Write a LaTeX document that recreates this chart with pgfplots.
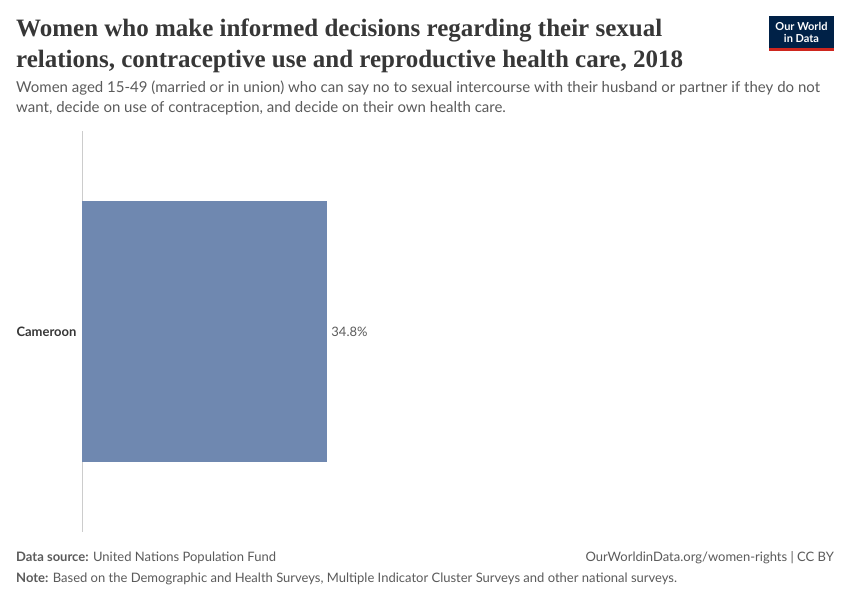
\documentclass[border=0pt]{standalone}
\usepackage{fontspec}
\usepackage{pgfplots}
\pgfplotsset{compat=1.18}
\setmainfont{Lato}
\newfontfamily\titlefont{Liberation Serif}
\definecolor{barblue}{HTML}{6F88B0}
\definecolor{titlegray}{HTML}{373737}
\definecolor{textgray}{HTML}{5B5B5B}
\definecolor{axisgray}{HTML}{CCCCCC}
\definecolor{owidnavy}{HTML}{002147}
\definecolor{owidred}{HTML}{CE261E}

\begin{document}
\begin{tikzpicture}[x=1pt,y=1pt]
% page frame, 1px = 1pt
\fill[white] (0,0) rectangle (850,600);

% title and subtitle
\node[anchor=base west,inner sep=0,text=titlegray,font=\titlefont\bfseries\fontsize{25}{32}\selectfont] at (16,563)
  {Women who make informed decisions regarding their sexual};
\node[anchor=base west,inner sep=0,text=titlegray,font=\titlefont\bfseries\fontsize{25}{32}\selectfont] at (16,532)
  {relations, contraceptive use and reproductive health care, 2018};
\node[anchor=base west,inner sep=0,text=textgray,font=\fontsize{15}{20}\selectfont] at (16,507)
  {Women aged 15-49 (married or in union) who can say no to sexual intercourse with their husband or partner if they do not};
\node[anchor=base west,inner sep=0,text=textgray,font=\fontsize{15}{20}\selectfont] at (16,487)
  {want, decide on use of contraception, and decide on their own health care.};

% logo
\fill[owidnavy] (769,551) rectangle (834,584);
\fill[owidred] (769,549) rectangle (834,552);
\node[text=white,align=center,inner sep=0,font=\bfseries\fontsize{11}{12}\selectfont] at (801.5,568)
  {Our World\\in Data};

\begin{axis}[
    at={(82pt,68.5pt)},
    anchor=south west,
    scale only axis,
    width=753pt,
    height=400pt,
    xbar,
    bar width=261pt,
    xmin=0, xmax=107,
    ymin=-1, ymax=1,
    axis lines*=left,
    axis x line=none,
    y axis line style={axisgray, line width=0.8pt},
    ytick={0},
    yticklabels={Cameroon},
    major tick length=0pt,
    yticklabel style={text=titlegray, font=\bfseries\fontsize{13}{14}\selectfont, xshift=-2pt},
    /pgf/number format/assume math mode=true,
    nodes near coords={\pgfmathprintnumber[fixed,precision=1,fixed zerofill]{\pgfplotspointmeta}\%},
    nodes near coords style={text=textgray, font=\fontsize{13}{14}\selectfont, anchor=west, xshift=1pt},
    point meta=explicit,
    clip=false,
]
\addplot[draw=none, fill=barblue] coordinates {(34.8,0) [34.8]};
\end{axis}

% footer
\node[anchor=base west,inner sep=0,text=textgray,font=\fontsize{13}{14}\selectfont] at (16,39)
  {{\bfseries Data source:} United Nations Population Fund};
\node[anchor=base east,inner sep=0,text=textgray,font=\fontsize{13}{14}\selectfont] at (834,39)
  {OurWorldinData.org/women-rights | CC BY};
\node[anchor=base west,inner sep=0,text=textgray,font=\fontsize{13}{14}\selectfont] at (16,18)
  {{\bfseries Note:} Based on the Demographic and Health Surveys, Multiple Indicator Cluster Surveys and other national surveys.};
\end{tikzpicture}
\end{document}
